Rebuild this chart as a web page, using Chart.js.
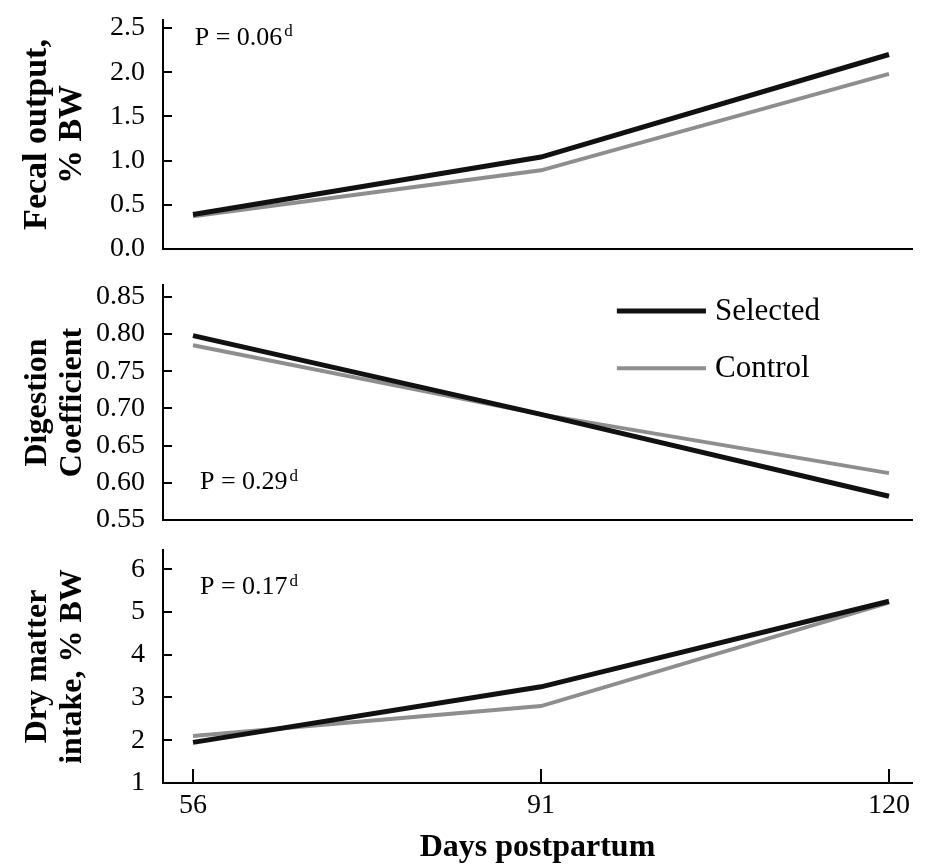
<!DOCTYPE html>
<html>
<head>
<meta charset="utf-8">
<script src="https://cdn.jsdelivr.net/npm/chart.js@4.4.1/dist/chart.umd.min.js"></script>
<style>
html,body{margin:0;padding:0;background:#fff;}
#wrap{position:relative;width:925px;height:867px;overflow:hidden;background:#fff;}
.panel{position:absolute;left:0;width:925px;}
</style>
</head>
<body>
<div id="wrap">
  <div class="panel" style="top:0;height:270px"><canvas id="c-fecal"></canvas></div>
  <div class="panel" style="top:270px;height:270px"><canvas id="c-digest"></canvas></div>
  <div class="panel" style="top:540px;height:327px"><canvas id="c-dmi"></canvas></div>
</div>
<script>
// ── data ──────────────────────────────────────────────
const days=['56','91','120'];
const seriesNames=['Selected','Control'];

const fecalSelected=[0.39,1.04,2.20];
const fecalControl=[0.37,0.89,1.98];
const digestSelected=[0.798,0.692,0.582];
const digestControl=[0.785,0.692,0.613];
const dmiSelected=[1.95,3.25,5.25];
const dmiControl=[2.10,2.80,5.22];

const fecalTicks=[0,0.5,1.0,1.5,2.0,2.5];
const digestTicks=[0.55,0.60,0.65,0.70,0.75,0.80,0.85];
const dmiTicks=[1,2,3,4,5,6];

const pTexts=['P = 0.06','P = 0.29','P = 0.17'];

// ── styling ───────────────────────────────────────────
const SERIF='"Liberation Serif","Times New Roman",serif';
const SEL_COLOR='#111111', CTL_COLOR='#8e8e8e';

// draws the P value note and (optionally) the legend inside the plot
const notesPlugin={
  id:'notes',
  afterDatasetsDraw(chart,args,opts){
    const {ctx,scales:{x,y}}=chart;
    ctx.save();
    ctx.fillStyle='#000';
    ctx.textBaseline='middle';
    ctx.textAlign='left';
    ctx.font='26px '+SERIF;
    const px=x.getPixelForValue(opts.px), py=y.getPixelForValue(opts.py);
    ctx.fillText(opts.text,px,py);
    const w=ctx.measureText(opts.text).width;
    ctx.font='17px '+SERIF;
    ctx.fillText('d',px+w+2,py-6);
    if(opts.legend){
      const L=opts.legend;
      chart.data.datasets.forEach((ds,i)=>{
        const ly=y.getPixelForValue(L.ys[i]);
        ctx.strokeStyle=ds.borderColor;
        ctx.lineWidth=ds.borderWidth;
        ctx.beginPath();
        ctx.moveTo(x.getPixelForValue(L.x0),ly);
        ctx.lineTo(x.getPixelForValue(L.x1),ly);
        ctx.stroke();
        ctx.fillStyle='#000';
        ctx.font='31px '+SERIF;
        ctx.fillText(ds.label,x.getPixelForValue(L.xt),ly+1);
      });
    }
    ctx.restore();
  }
};

function noEdgePad(s){s.paddingTop=0;s.paddingBottom=0;s.paddingLeft=0;s.paddingRight=0;}

function makePanel(id,cfg){
  const toPts=arr=>arr.map((v,i)=>({x:i,y:v}));
  return new Chart(document.getElementById(id),{
    type:'line',
    data:{datasets:[
      {label:seriesNames[0],data:toPts(cfg.sel),borderColor:SEL_COLOR,borderWidth:5,pointRadius:0,tension:0,fill:false,borderCapStyle:'butt'},
      {label:seriesNames[1],data:toPts(cfg.ctl),borderColor:CTL_COLOR,borderWidth:4,pointRadius:0,tension:0,fill:false,borderCapStyle:'butt'}
    ]},
    options:{
      responsive:true,maintainAspectRatio:false,animation:false,
      layout:{padding:{top:cfg.padTop,right:13,left:0,bottom:0}},
      plugins:{legend:{display:false},tooltip:{enabled:false},notes:cfg.notes},
      scales:{
        x:{
          type:'linear',min:-30/348,max:2+23/348,
          afterBuildTicks:s=>{s.ticks=days.map((d,i)=>({value:i}));},
          afterFit:s=>{s.height=cfg.xHeight;noEdgePad(s);},
          border:{display:true,color:'#000',width:2},
          grid:{drawOnChartArea:false,drawTicks:cfg.showX,tickLength:-14,color:'#000',lineWidth:2},
          ticks:{display:cfg.showX,color:'#000',padding:20,maxRotation:0,font:{family:SERIF,size:28},callback:v=>days[v]},
          title:{display:cfg.showX,text:'Days postpartum',color:'#000',padding:{top:0,bottom:0},font:{family:SERIF,size:32,weight:'bold'}}
        },
        y:{
          min:cfg.min,max:cfg.max,
          afterBuildTicks:s=>{s.ticks=cfg.ticks.map(v=>({value:v}));},
          afterFit:s=>{s.width=163;noEdgePad(s);},
          border:{display:true,color:'#000',width:2},
          grid:{drawOnChartArea:false,drawTicks:true,tickLength:-9,color:'#000',lineWidth:2},
          ticks:{color:'#000',padding:27,font:{family:SERIF,size:28},callback:v=>v.toFixed(cfg.dec)},
          title:{display:true,text:cfg.title,color:'#000',padding:{top:20,bottom:0},font:{family:SERIF,size:cfg.titleSize,weight:'bold',lineHeight:'35px'}}
        }
      }
    },
    plugins:[notesPlugin]
  });
}

makePanel('c-fecal',{
  sel:fecalSelected,ctl:fecalControl,ticks:fecalTicks,min:0,max:2.59,dec:1,
  title:['Fecal output,','% BW'],titleSize:34,padTop:20,xHeight:21,showX:false,
  notes:{text:pTexts[0],px:0.005,py:2.39}
});
makePanel('c-digest',{
  sel:digestSelected,ctl:digestControl,ticks:digestTicks,min:0.55,max:0.866,dec:2,
  title:['Digestion','Coefficient'],titleSize:32,padTop:15,xHeight:20,showX:false,
  notes:{text:pTexts[1],px:0.02,py:0.601,legend:{x0:1.218,x1:1.474,xt:1.50,ys:[0.831,0.754]}}
});
makePanel('c-dmi',{
  sel:dmiSelected,ctl:dmiControl,ticks:dmiTicks,min:1,max:6.45,dec:0,
  title:['Dry matter','intake, % BW'],titleSize:32,padTop:10,xHeight:84,showX:true,
  notes:{text:pTexts[2],px:0.02,py:5.57}
});
</script>
</body>
</html>
